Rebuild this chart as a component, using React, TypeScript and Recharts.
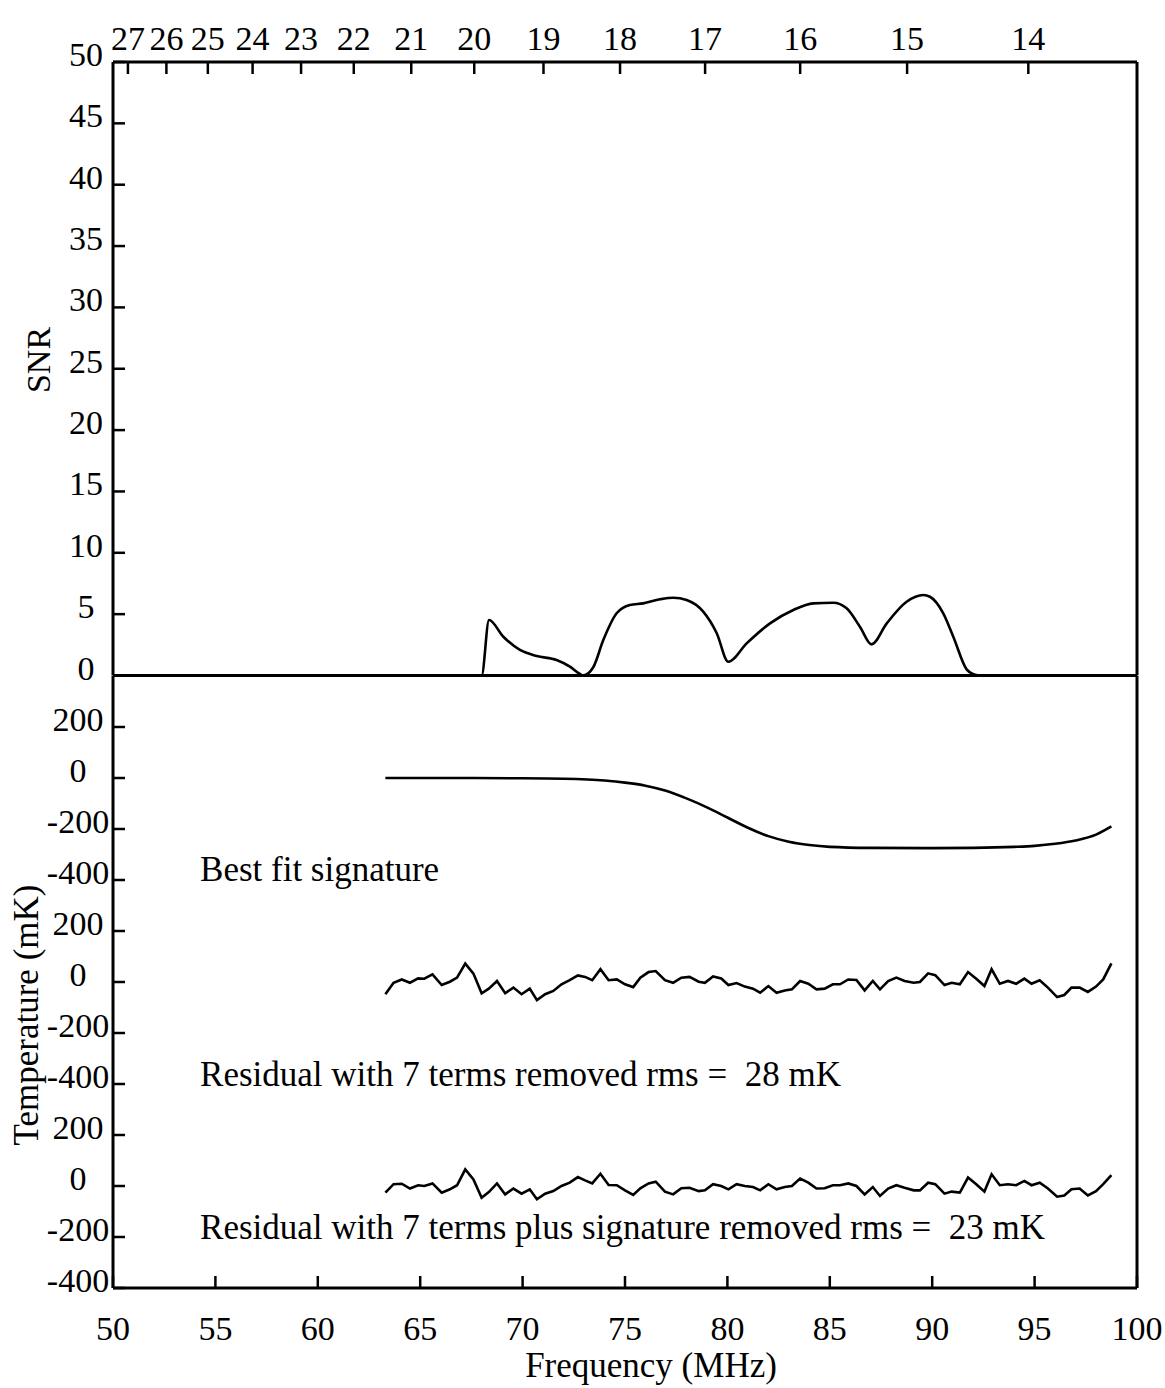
import { LineChart, Line, XAxis, YAxis, ReferenceLine, ReferenceDot, Label } from "recharts"

const FONT = "'Liberation Serif', 'Times New Roman', serif"
const INK = "#000"

// SNR curve (frequency in MHz, SNR)
const snrFreq = [63.3, 68.0, 68.36, 69.06, 69.87, 70.69, 71.66, 72.31, 72.8, 72.96, 73.45, 73.94, 74.59, 75.24, 75.89, 76.71, 77.36, 78.01, 78.82, 79.48, 80.04, 80.94, 82.08, 83.22, 84.19, 85.17, 85.82, 86.47, 87.04, 87.78, 88.75, 89.57, 89.89, 90.54, 91.03, 91.68, 92.01, 92.3, 98.75]
const snrValues = [0, 0, 4.52, 3.16, 2.08, 1.59, 1.26, 0.72, 0.12, 0, 0.67, 2.89, 5.07, 5.75, 5.88, 6.21, 6.34, 6.15, 5.2, 3.44, 1.12, 2.62, 4.25, 5.34, 5.88, 5.93, 5.48, 3.98, 2.54, 4.25, 6.01, 6.56, 6.42, 5.07, 3.16, 0.5, 0.1, 0, 0]

// best fit signature (mK)
const sigFreq = [63.3, 66, 70, 72, 74, 75, 76, 77, 78, 79, 80, 81, 82, 83, 84, 85, 87, 90, 92, 94, 95, 96, 97, 98, 98.75]
const sigValues = [0, 0, -1, -3, -10, -18, -30, -50, -80, -115, -155, -195, -228, -250, -263, -270, -274, -275, -274, -270, -266, -258, -245, -222, -190]

// residual channels
const residFreq = [63.3, 63.7, 64.1, 64.5, 64.9, 65.2, 65.6, 66.05, 66.45, 66.8, 67.2, 67.6, 68.0, 68.35, 68.75, 69.15, 69.55, 69.95, 70.35, 70.7, 71.1, 71.5, 71.9, 72.3, 72.7, 73.05, 73.4, 73.8, 74.2, 74.6, 75.0, 75.4, 75.75, 76.15, 76.5, 76.95, 77.35, 77.75, 78.15, 78.6, 78.9, 79.3, 79.7, 80.05, 80.45, 80.85, 81.25, 81.6, 82.0, 82.4, 82.8, 83.15, 83.55, 83.95, 84.35, 84.75, 85.15, 85.5, 85.9, 86.3, 86.7, 87.1, 87.45, 87.85, 88.25, 88.65, 89.1, 89.4, 89.8, 90.15, 90.6, 90.95, 91.35, 91.75, 92.15, 92.55, 92.9, 93.3, 93.7, 94.1, 94.5, 94.85, 95.25, 95.65, 96.1, 96.45, 96.8, 97.2, 97.6, 98.0, 98.35, 98.75]
const resid7Terms = [-48, -3, 10, -3, 14, 13, 30, -12, 1, 17, 72, 33, -44, -26, 4, -44, -22, -48, -26, -71, -48, -35, -9, 7, 26, 20, 7, 50, 7, 10, -9, -20, 17, 39, 43, 7, -3, 17, 20, 1, -3, 22, 14, -12, -4, -18, -26, -42, -16, -42, -33, -29, 4, -7, -29, -26, -9, -9, 10, 8, -33, 4, -29, 4, 17, 4, -3, 0, 34, 27, -12, -3, -9, 39, 13, -16, 50, -7, 4, -7, 13, -7, 7, -22, -59, -51, -22, -22, -39, -18, 10, 73]
const resid7PlusSig = [-26, 7, 9, -10, 3, 0, 10, -26, -13, 3, 65, 26, -46, -24, 10, -33, -10, -30, -13, -52, -30, -20, 0, 13, 35, 22, 10, 48, 4, 3, -17, -35, -9, 10, 17, -22, -33, -9, -7, -20, -17, 7, 0, -13, 7, 0, -4, -17, 7, -13, -4, 0, 29, 13, -10, -9, 3, 3, 10, 0, -33, -4, -39, -10, 3, -7, -17, -17, 13, 7, -30, -22, -26, 33, 7, -22, 46, 3, 7, 3, 20, 3, 13, -10, -42, -37, -13, -10, -37, -20, 7, 43]

const freqTicks = [50, 55, 60, 65, 70, 75, 80, 85, 90, 95, 100]
const snrTicks = [0, 5, 10, 15, 20, 25, 30, 35, 40, 45, 50]
const tempTicks = [-400, -200, 0, 200]
const redshifts = [27, 26, 25, 24, 23, 22, 21, 20, 19, 18, 17, 16, 15, 14]
const HI_MHZ = 1420.4

const snrData = snrFreq.map((f, i) => ({ f, v: snrValues[i] }))
const sigData = sigFreq.map((f, i) => ({ f, v: sigValues[i] }))
const resid7Data = residFreq.map((f, i) => ({ f, v: resid7Terms[i] }))
const residSigData = residFreq.map((f, i) => ({ f, v: resid7PlusSig[i] }))
const zTicks = redshifts.map((z) => HI_MHZ / (1 + z))

const W = 1165
const FS = 34
const TICK = 12
const SNR_BOTTOM = 675.5
const PANEL_H = 204
const PAD = 100

function LeftTick(props: any) {
  const { x, y, payload, shift } = props
  return (
    <g>
      <line x1={x} x2={x + TICK} y1={y} y2={y} stroke={INK} strokeWidth={2.5} />
      <text x={x - shift} y={y + 4} textAnchor="middle" fontSize={FS} fill={INK}>
        {payload.value}
      </text>
    </g>
  )
}

function TopTick(props: any) {
  const { x, y, payload } = props
  return (
    <g>
      <line x1={x} x2={x} y1={y} y2={y + TICK} stroke={INK} strokeWidth={2.5} />
      <text x={x} y={y - 12} textAnchor="middle" fontSize={FS} fill={INK}>
        {Math.round(HI_MHZ / payload.value - 1)}
      </text>
    </g>
  )
}

function BottomTick(props: any) {
  const { x, y, payload } = props
  return (
    <g>
      <line x1={x} x2={x} y1={y} y2={y - TICK} stroke={INK} strokeWidth={2.5} />
      <text x={x} y={y + 52} textAnchor="middle" fontSize={FS} fill={INK}>
        {payload.value}
      </text>
    </g>
  )
}

function SnrPanel() {
  return (
    <div style={{ position: "absolute", left: 0, top: 0 }}>
      <LineChart width={W} height={700} margin={{ top: 32, right: 28, bottom: 700 - SNR_BOTTOM, left: 53 }}>
        {/* redshift scale along the top */}
        <XAxis
          dataKey="f"
          orientation="top"
          type="number"
          domain={[50, 100]}
          allowDataOverflow
          ticks={zTicks}
          interval={0}
          height={30}
          tickSize={0}
          tickMargin={0}
          tickLine={false}
          axisLine={{ stroke: INK, strokeWidth: 3 }}
          tick={(p: any) => <TopTick {...p} />}
        />
        <YAxis
          type="number"
          domain={[0, 50]}
          ticks={snrTicks}
          interval={0}
          width={60}
          tickSize={0}
          tickMargin={0}
          tickLine={false}
          axisLine={{ stroke: INK, strokeWidth: 3 }}
          tick={(p: any) => <LeftTick {...p} shift={27} />}
        >
          <Label
            content={(p: any) => {
              const vb = p.viewBox || { x: 53, y: 62, width: 60, height: 613.5 }
              const cx = vb.x - 15
              const cy = vb.y + 298
              return (
                <text x={cx} y={cy} transform={`rotate(-90 ${cx} ${cy})`} textAnchor="middle" dominantBaseline="central" fontSize={FS} fill={INK}>
                  SNR
                </text>
              )
            }}
          />
        </YAxis>
        <ReferenceLine x={100} stroke={INK} strokeWidth={3} />
        <ReferenceLine y={0} stroke={INK} strokeWidth={3} />
        <Line data={snrData} dataKey="v" type="monotone" dot={false} stroke={INK} strokeWidth={2.6} isAnimationActive={false} />
      </LineChart>
    </div>
  )
}

function TempPanel(props: { index: number; data: { f: number; v: number }[]; smooth: boolean; note: string; noteY: number; last?: boolean; title?: boolean }) {
  const { index, data, smooth, note, noteY, last, title } = props
  const top = SNR_BOTTOM + PANEL_H * index - PAD
  const height = PANEL_H + 2 * PAD
  return (
    <div style={{ position: "absolute", left: 0, top }}>
      <LineChart width={W} height={height} margin={{ top: PAD, right: 28, bottom: last ? 0 : PAD, left: 53 }}>
        <XAxis
          dataKey="f"
          type="number"
          domain={[50, 100]}
          allowDataOverflow
          hide={!last}
          ticks={freqTicks}
          interval={0}
          height={PAD}
          tickSize={0}
          tickMargin={0}
          tickLine={false}
          axisLine={{ stroke: INK, strokeWidth: 3 }}
          tick={(p: any) => <BottomTick {...p} />}
        >
          {last && (
            <Label
              content={(p: any) => {
                const vb = p.viewBox || { x: 113, y: PANEL_H + PAD, width: 1024, height: PAD }
                return (
                  <text x={vb.x + 538} y={vb.y + 89} textAnchor="middle" fontSize={35} fill={INK}>
                    Frequency (MHz)
                  </text>
                )
              }}
            />
          )}
        </XAxis>
        <YAxis
          type="number"
          domain={[-400, 400]}
          allowDataOverflow
          ticks={tempTicks}
          interval={0}
          width={60}
          tickSize={0}
          tickMargin={0}
          tickLine={false}
          axisLine={{ stroke: INK, strokeWidth: 3 }}
          tick={(p: any) => <LeftTick {...p} shift={35} />}
        >
          {title && (
            <Label
              content={(p: any) => {
                const vb = p.viewBox || { x: 53, y: PAD, width: 60, height: PANEL_H }
                const cx = vb.x - 27
                const cy = vb.y + vb.height / 2 + 33
                return (
                  <text x={cx} y={cy} transform={`rotate(-90 ${cx} ${cy})`} textAnchor="middle" dominantBaseline="central" fontSize={35} fill={INK}>
                    Temperature (mK)
                  </text>
                )
              }}
            />
          )}
        </YAxis>
        <ReferenceLine x={100} stroke={INK} strokeWidth={3} />
        <ReferenceDot
          x={54.25}
          y={noteY}
          r={0}
          fill="none"
          stroke="none"
          label={{ value: note, position: "right", offset: 0, fontSize: 35, fill: INK }}
        />
        <Line data={data} dataKey="v" type={smooth ? "monotone" : "linear"} dot={false} stroke={INK} strokeWidth={2.6} isAnimationActive={false} />
      </LineChart>
    </div>
  )
}

export default function App() {
  return (
    <div style={{ position: "absolute", left: 0, top: 0, width: W, height: 1388, background: "#fff", fontFamily: FONT }}>
      <SnrPanel />
      <TempPanel index={0} data={sigData} smooth note="Best fit signature" noteY={-355} />
      <TempPanel index={1} data={resid7Data} smooth={false} note={"Residual with 7 terms removed rms = \u00a028 mK"} noteY={-359} title />
      <TempPanel index={2} data={residSigData} smooth={false} note={"Residual with 7 terms plus signature removed rms = \u00a023 mK"} noteY={-159} last />
    </div>
  )
}
